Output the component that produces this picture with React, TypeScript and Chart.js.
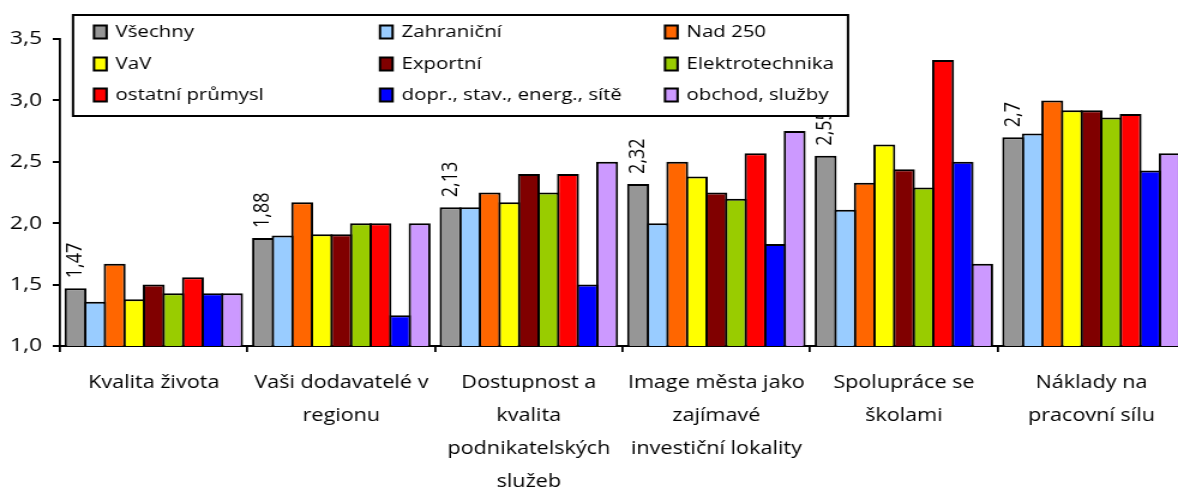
import React, { useEffect, useRef } from "react";
import { Chart, registerables } from "chart.js";
Chart.register(...registerables);

const categories: string[][] = [
  ["Kvalita života"],
  ["Vaši dodavatelé v", "regionu"],
  ["Dostupnost a", "kvalita", "podnikatelských", "služeb"],
  ["Image města jako", "zajímavé", "investiční lokality"],
  ["Spolupráce se", "školami"],
  ["Náklady na", "pracovní sílu"],
];

const seriesNames = [
  "Všechny",
  "Zahraniční",
  "Nad 250",
  "VaV",
  "Exportní",
  "Elektrotechnika",
  "ostatní průmysl",
  "dopr., stav., energ., sítě",
  "obchod, služby",
];

const seriesColors = [
  "#969696",
  "#99CCFF",
  "#FF6600",
  "#FFFF00",
  "#800000",
  "#99CC00",
  "#FF0000",
  "#0000FF",
  "#CC99FF",
];

const vsechny = [1.47, 1.88, 2.13, 2.32, 2.55, 2.7];
const zahranicni = [1.36, 1.9, 2.13, 2.0, 2.11, 2.73];
const nad250 = [1.67, 2.17, 2.25, 2.5, 2.33, 3.0];
const vav = [1.38, 1.91, 2.17, 2.38, 2.64, 2.92];
const exportni = [1.5, 1.91, 2.4, 2.25, 2.44, 2.92];
const elektrotechnika = [1.43, 2.0, 2.25, 2.2, 2.29, 2.86];
const ostatniPrumysl = [1.56, 2.0, 2.4, 2.57, 3.33, 2.89];
const doprStav = [1.43, 1.25, 1.5, 1.83, 2.5, 2.43];
const obchodSluzby = [1.43, 2.0, 2.5, 2.75, 1.67, 2.57];

const seriesValues = [
  vsechny,
  zahranicni,
  nad250,
  vav,
  exportni,
  elektrotechnika,
  ostatniPrumysl,
  doprStav,
  obchodSluzby,
];

const yMin = 1.0;
const yMax = 3.5;
const yStep = 0.5;

const FONT = "'Open Sans', Lato, sans-serif";

// canvas is drawn narrower and stretched horizontally (like the original)
const CANVAS_W = 992;
const CANVAS_H = 491;
const DISPLAY_W = 1190;
const SX = DISPLAY_W / CANVAS_W;

const fmt = (v: number) => String(v).replace(".", ",");

const labelPlugin = {
  id: "allLabels",
  afterDatasetsDraw(chart: any) {
    const ctx = chart.ctx;
    const meta = chart.getDatasetMeta(0);
    ctx.save();
    ctx.font = `18px ${FONT}`;
    ctx.fillStyle = "#000";
    meta.data.forEach((bar: any, i: number) => {
      ctx.save();
      ctx.translate(bar.x, bar.y - 10);
      ctx.rotate(-Math.PI / 2);
      ctx.textAlign = "left";
      ctx.textBaseline = "middle";
      ctx.fillText(fmt(vsechny[i]), 0, 0);
      ctx.restore();
    });
    ctx.restore();
  },
};

const legendPlugin = {
  id: "gridLegend",
  afterDraw(chart: any) {
    const ctx = chart.ctx;
    ctx.save();
    const bx = 73 / SX, by = 15, bw = 775 / SX, bh = 101;
    ctx.fillStyle = "#fff";
    ctx.fillRect(bx, by, bw, bh);
    ctx.strokeStyle = "#000";
    ctx.lineWidth = 2;
    ctx.strokeRect(bx, by, bw, bh);
    const colX = [94 / SX, 380 / SX, 665 / SX];
    const rowY = [32, 64, 95];
    ctx.font = `17px ${FONT}`;
    ctx.textBaseline = "middle";
    ctx.textAlign = "left";
    seriesNames.forEach((name, i) => {
      const c = i % 3;
      const r = Math.floor(i / 3);
      const x = colX[c];
      const y = rowY[r];
      ctx.fillStyle = seriesColors[i];
      ctx.fillRect(x, y - 6.5, 10.5, 13);
      ctx.lineWidth = 2;
      ctx.strokeStyle = "#000";
      ctx.strokeRect(x, y - 6.5, 10.5, 13);
      ctx.fillStyle = "#000";
      ctx.fillText(name, x + 18, y);
    });
    ctx.restore();
  },
};

export default function App() {
  const ref = useRef<HTMLCanvasElement | null>(null);
  useEffect(() => {
    if (!ref.current) return;
    const chart = new Chart(ref.current, {
      type: "bar",
      data: {
        labels: categories,
        datasets: seriesValues.map((vals, i) => ({
          label: seriesNames[i],
          data: vals,
          backgroundColor: seriesColors[i],
          borderColor: "#000",
          borderWidth: 2,
          barPercentage: 1.123,
          categoryPercentage: 0.939,
        })),
      },
      options: {
        responsive: false,
        animation: false,
        devicePixelRatio: 1,
        layout: { padding: { top: 39, right: 4, left: 0, bottom: 0 } },
        plugins: {
          legend: { display: false },
          tooltip: { enabled: false },
          title: { display: false },
        },
        scales: {
          x: {
            afterFit: (s: any) => {
              s.height = 145;
            },
            grid: {
              display: true,
              offset: true,
              drawOnChartArea: false,
              drawTicks: true,
              tickLength: 6,
              color: "#000",
              lineWidth: 1.8,
            },
            border: { display: true, color: "#000", width: 2 },
            ticks: {
              color: "#000",
              padding: 14,
              maxRotation: 0,
              minRotation: 0,
              autoSkip: false,
              font: { family: FONT, size: 18, lineHeight: "33px" as any },
            },
          },
          y: {
            min: yMin,
            max: yMax,
            afterFit: (s: any) => {
              s.width = 60 / SX;
            },
            grid: {
              display: true,
              drawOnChartArea: false,
              drawTicks: true,
              tickLength: 6,
              color: "#000",
              lineWidth: 2,
            },
            border: { display: true, color: "#000", width: 1.8 },
            ticks: {
              stepSize: yStep,
              color: "#000",
              padding: 9,
              font: { family: FONT, size: 19 },
              callback: (v: any) => Number(v).toFixed(1).replace(".", ","),
            },
          },
        },
      },
      plugins: [labelPlugin, legendPlugin],
    });
    return () => chart.destroy();
  }, []);
  return (
    <div
      style={{
        position: "fixed",
        left: 0,
        top: 0,
        width: 1178,
        height: 491,
        overflow: "hidden",
        background: "#fff",
      }}
    >
      <canvas
        ref={ref}
        width={CANVAS_W}
        height={CANVAS_H}
        style={{
          width: CANVAS_W,
          height: CANVAS_H,
          display: "block",
          transform: `scaleX(${SX})`,
          transformOrigin: "0 0",
        }}
      />
    </div>
  );
}
